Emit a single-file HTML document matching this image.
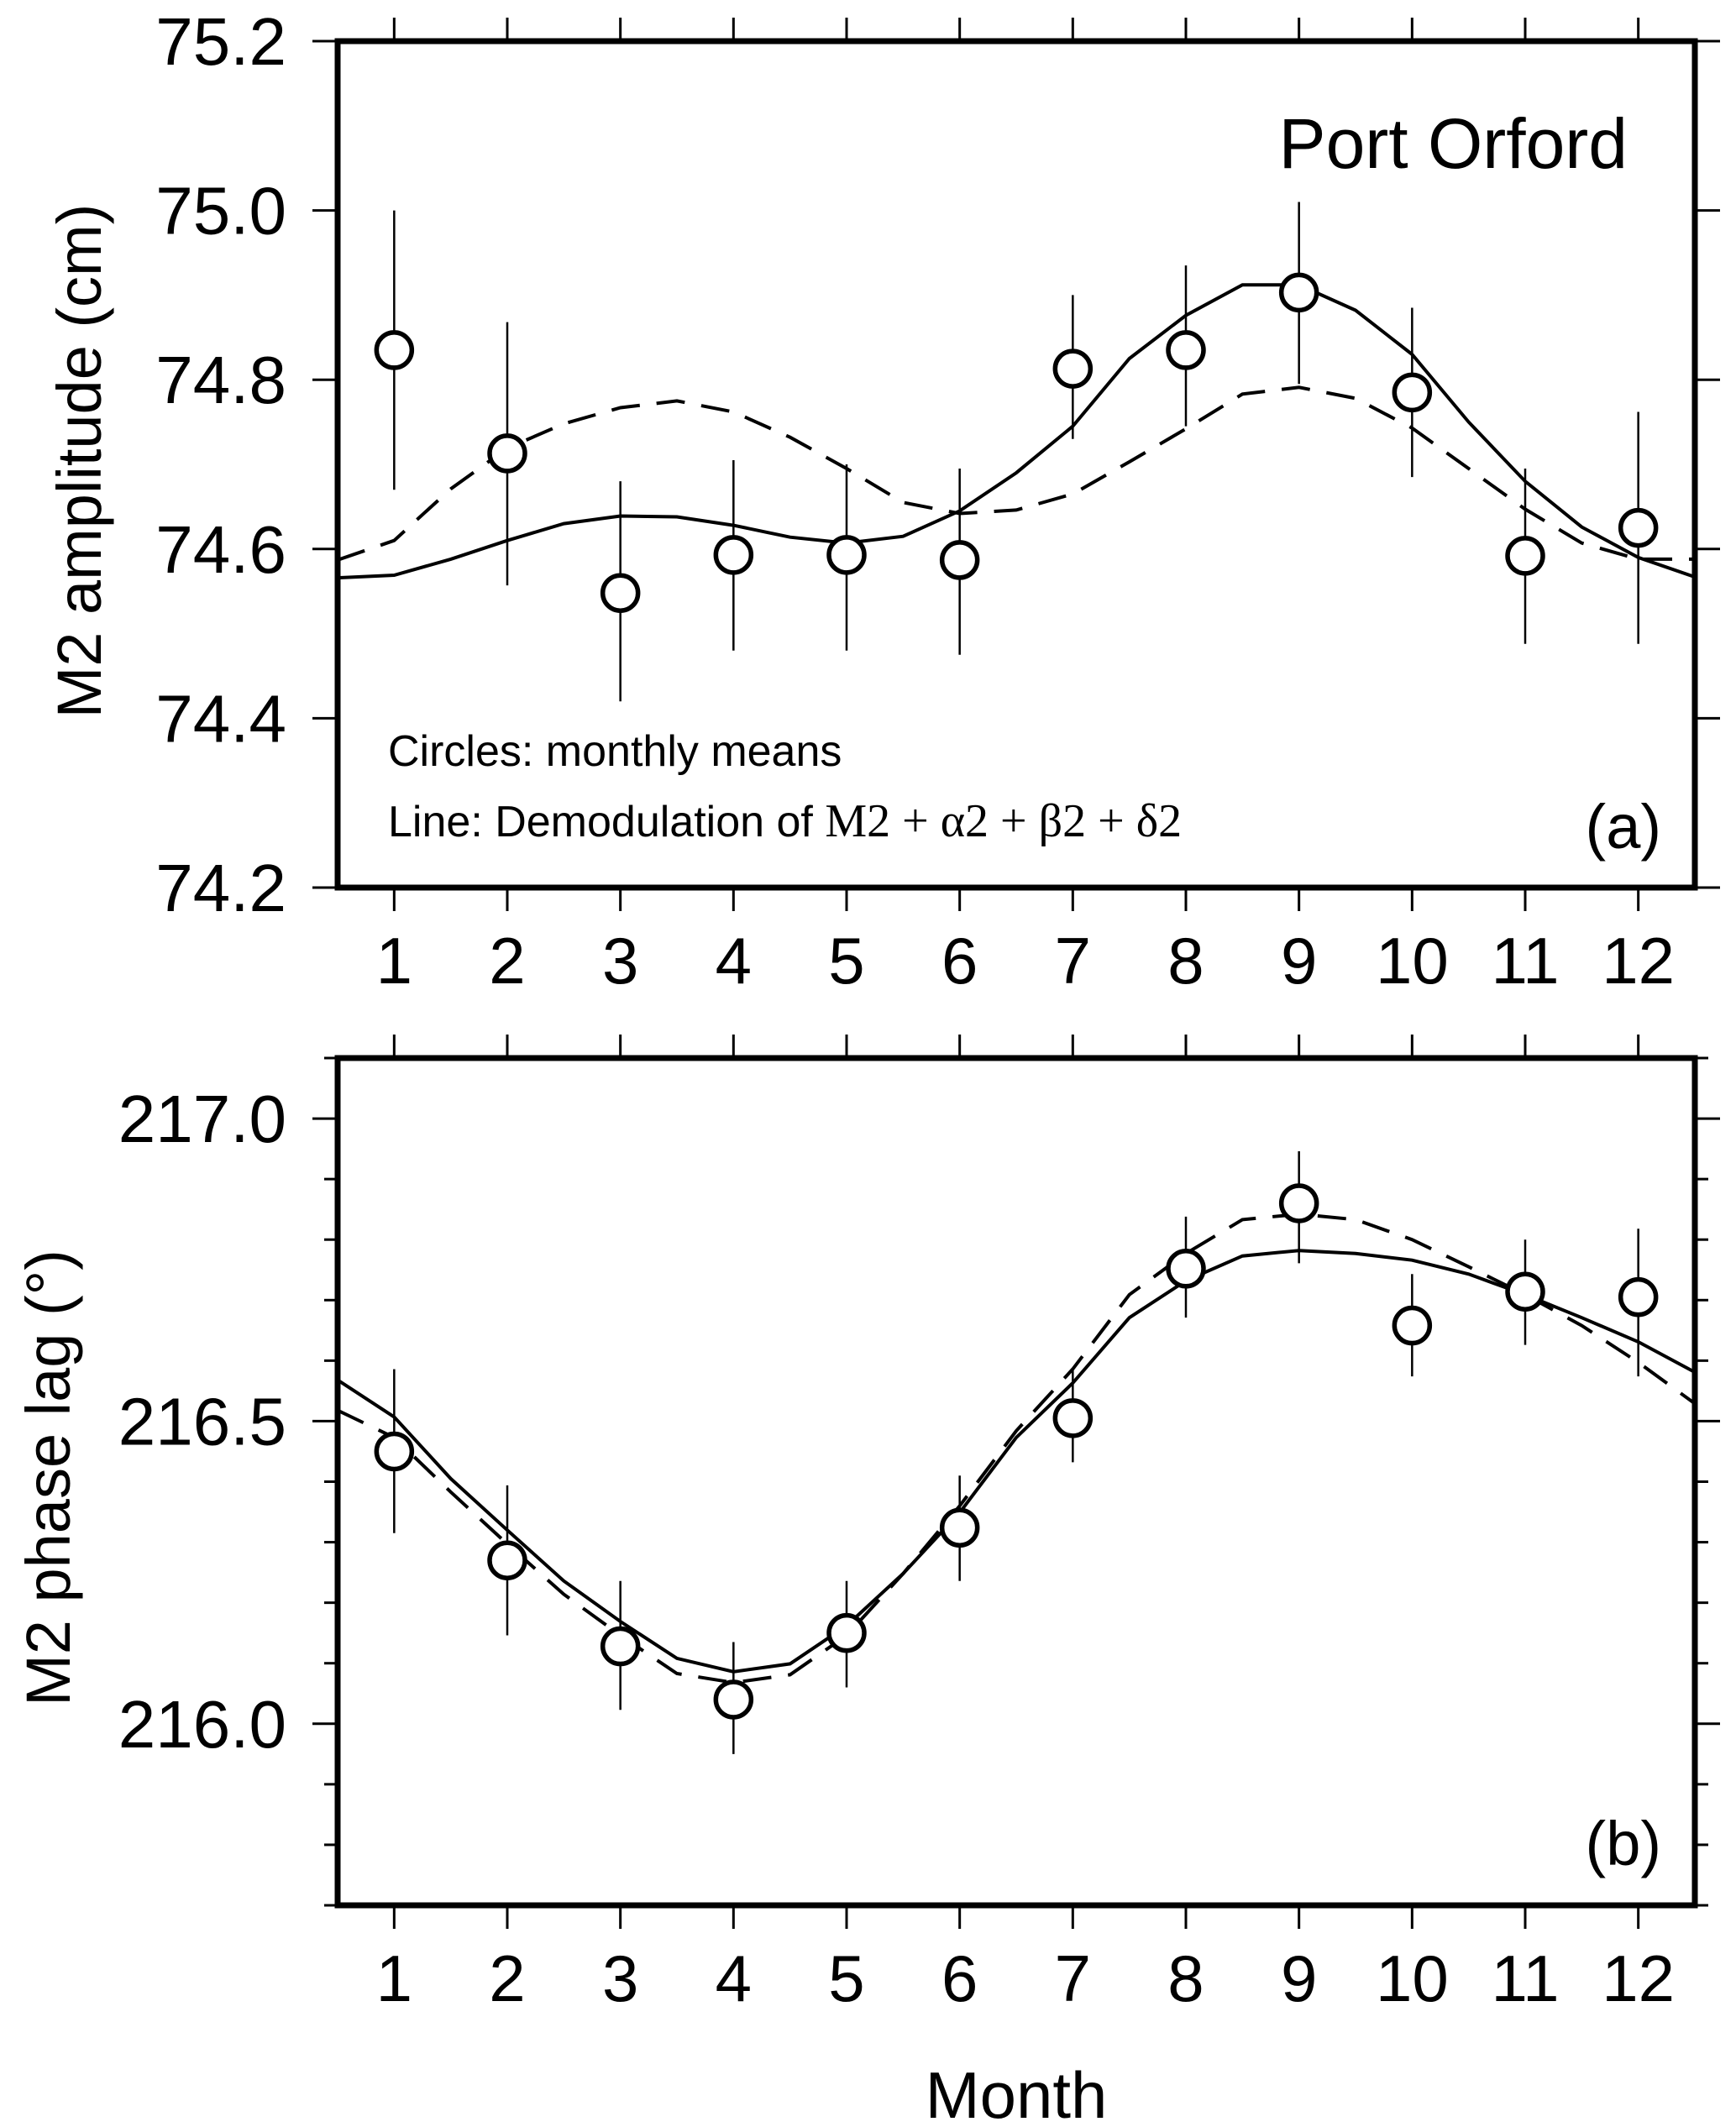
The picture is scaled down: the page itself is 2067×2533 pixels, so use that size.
<!DOCTYPE html>
<html><head><meta charset="utf-8"><style>
html,body{margin:0;padding:0;background:#fff;}
svg{display:block;font-family:"Liberation Sans",sans-serif;}
</style></head><body>
<svg id="chart" width="2067" height="2533" viewBox="0 0 2067 2533" xmlns="http://www.w3.org/2000/svg">
<g id="root"></g>
</svg>
<script>
const months = [1,2,3,4,5,6,7,8,9,10,11,12];
const lineX = [0.5,1,1.5,2,2.5,3,3.5,4,4.5,5,5.5,6,6.5,7,7.5,8,8.5,9,9.5,10,10.5,11,11.5,12,12.5];
const ampMean = [74.835,74.713,74.548,74.593,74.593,74.587,74.813,74.835,74.903,74.785,74.592,74.625];
const ampLo = [74.67,74.557,74.42,74.48,74.48,74.475,74.73,74.745,74.795,74.685,74.488,74.488];
const ampHi = [75.0,74.868,74.68,74.705,74.70,74.695,74.90,74.935,75.01,74.885,74.695,74.762];
const ampSolid = [74.566,74.569,74.588,74.61,74.63,74.639,74.638,74.628,74.614,74.607,74.615,74.645,74.69,74.745,74.825,74.876,74.912,74.912,74.882,74.83,74.75,74.68,74.626,74.59,74.567];
const ampDash = [74.587,74.61,74.671,74.719,74.748,74.767,74.775,74.762,74.732,74.695,74.655,74.642,74.646,74.665,74.703,74.742,74.783,74.791,74.778,74.743,74.695,74.647,74.607,74.588,74.588];
const phMean = [216.45,216.27,216.128,216.04,216.15,216.324,216.505,216.752,216.86,216.658,216.714,216.705];
const phLo = [216.315,216.146,216.023,215.95,216.06,216.236,216.432,216.671,216.761,216.574,216.626,216.574];
const phHi = [216.586,216.394,216.236,216.135,216.236,216.41,216.586,216.838,216.946,216.743,216.8,216.818];
const phSolid = [216.568,216.507,216.405,216.32,216.236,216.169,216.108,216.086,216.099,216.162,216.248,216.349,216.473,216.563,216.671,216.732,216.773,216.782,216.777,216.766,216.743,216.709,216.671,216.631,216.581];
const phDash = [216.518,216.473,216.383,216.297,216.214,216.146,216.083,216.068,216.081,216.146,216.248,216.36,216.484,216.586,216.709,216.777,216.833,216.842,216.833,216.8,216.755,216.709,216.658,216.597,216.529];
const ampTicks = ["74.2","74.4","74.6","74.8","75.0","75.2"];
const phTicks = ["216.0","216.5","217.0"];

const NS="http://www.w3.org/2000/svg";
const root=document.getElementById('root');
function mk(tag,attrs,parent){const e=document.createElementNS(NS,tag);for(const k in attrs)e.setAttribute(k,attrs[k]);(parent||root).appendChild(e);return e;}
const L=402,R=2018;
const xs=m=>L+(m-0.5)*(R-L)/12;

function panel(p){
  const g=mk('g',{});
  
  
  const ys=v=>p.top+(p.vmax-v)*(p.bot-p.top)/(p.vmax-p.vmin);
  for(let v=p.vmin;v<=p.vmax+1e-6;v+=p.minor){
    const y=ys(v);const major=p.ticks.some(t=>Math.abs(parseFloat(t)-v)<1e-6);
    const len=major?30:16;
    const t1=mk('line',{x1:L-len,x2:L,y1:y,y2:y,stroke:'#000','stroke-width':3},g);
    
    const t2=mk('line',{x1:R,x2:R+len,y1:y,y2:y,stroke:'#000','stroke-width':3},g);
    
  }
  p.ticks.forEach(t=>{
    const tx=mk('text',{x:341,y:ys(parseFloat(t))+28,'text-anchor':'end','font-size':80},g);
    
    tx.textContent=t;
  });
  months.forEach(m=>{
    const x=xs(m);
    const a=mk('line',{x1:x,x2:x,y1:p.top-28,y2:p.top,stroke:'#000','stroke-width':3},g);
    
    const b=mk('line',{x1:x,x2:x,y1:p.bot,y2:p.bot+28,stroke:'#000','stroke-width':3},g);
    
    const tx=mk('text',{x:x,y:p.bot+114,'text-anchor':'middle','font-size':78},g);
    
    tx.textContent=m;
  });
  const clip='clip-'+p.name;
  const cp=mk('clipPath',{id:clip},g);mk('rect',{x:L,y:p.top,width:R-L,height:p.bot-p.top},cp);
  const pts=arr=>arr.map((v,i)=>xs(lineX[i]).toFixed(1)+','+ys(v).toFixed(1)).join(' ');
  const s=mk('polyline',{points:pts(p.solid),fill:'none',stroke:'#000','stroke-width':4,'clip-path':'url(#'+clip+')'},g);
  
  const d=mk('polyline',{points:pts(p.dash),fill:'none',stroke:'#000','stroke-width':4,'stroke-dasharray':'34 20','clip-path':'url(#'+clip+')'},g);
  
  months.forEach((m,i)=>{
    const x=xs(m);
    const e=mk('line',{x1:x,x2:x,y1:ys(p.hi[i]),y2:ys(p.lo[i]),stroke:'#000','stroke-width':2.5},g);
    
    const c=mk('circle',{cx:x,cy:ys(p.mean[i]),r:21,fill:'#fff',stroke:'#000','stroke-width':5.5},g);
    
  });
  const fr=mk('rect',{x:L,y:p.top,width:R-L,height:p.bot-p.top,fill:'none',stroke:'#000','stroke-width':7},g);
  
}
panel({name:'amplitude-panel',top:49,bot:1057,vmin:74.2,vmax:75.2,minor:0.2,ticks:ampTicks,mean:ampMean,lo:ampLo,hi:ampHi,solid:ampSolid,dash:ampDash});
panel({name:'phase-panel',top:1260,bot:2269,vmin:215.7,vmax:217.1,minor:0.1,ticks:phTicks,mean:phMean,lo:phLo,hi:phHi,solid:phSolid,dash:phDash});

function txt(name,attrs,content){const t=mk('text',attrs);t.innerHTML=content;return t;}
txt('y-axis-title-amplitude',{x:0,y:0,'font-size':74,'text-anchor':'middle',transform:'translate(120,549) rotate(-90)'},'M2 amplitude (cm)');
txt('y-axis-title-phase',{x:0,y:0,'font-size':74,'text-anchor':'middle',transform:'translate(83,1760) rotate(-90)'},'M2 phase lag (°)');
txt('x-axis-title',{x:1210,y:2522,'font-size':78,'text-anchor':'middle'},'Month');
txt('station-title',{x:1938,y:200,'font-size':84,'text-anchor':'end'},'Port Orford');
txt('panel-label-a',{x:1978,y:1010,'font-size':74,'text-anchor':'end'},'(a)');
txt('panel-label-b',{x:1978,y:2221,'font-size':74,'text-anchor':'end'},'(b)');
txt('legend-circles',{x:462,y:912,'font-size':52},'Circles: monthly means');
txt('legend-line',{x:462,y:996,'font-size':52},'Line: Demodulation of <tspan font-family="Liberation Serif, serif" font-size="56">M2 + α2 + β2 + δ2</tspan>');
</script>
</body></html>
